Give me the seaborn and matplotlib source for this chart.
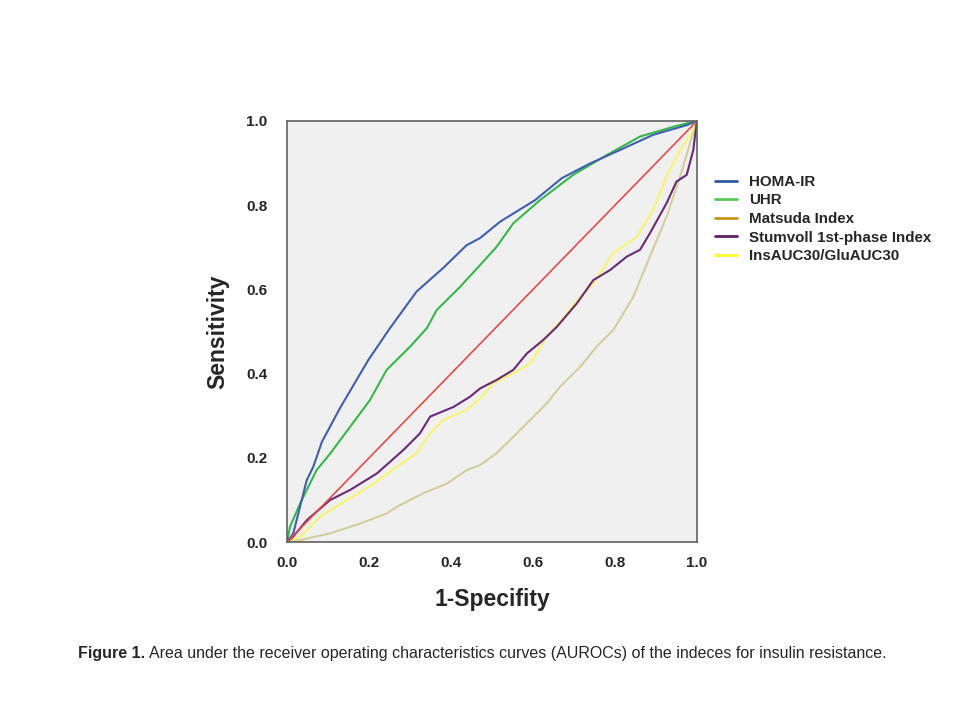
import numpy as np
import pandas as pd
import seaborn as sns
import matplotlib.pyplot as plt
from matplotlib.lines import Line2D

# ROC curves (1-specificity, sensitivity)
homa_x = [0, 0.015, 0.048, 0.064, 0.085, 0.129, 0.198, 0.251, 0.316, 0.381, 0.438, 0.471,
          0.52, 0.605, 0.67, 0.739, 0.812, 0.893, 0.975, 1.0]
homa_y = [0, 0.02, 0.147, 0.179, 0.238, 0.318, 0.432, 0.508, 0.595, 0.651, 0.705, 0.722,
          0.761, 0.812, 0.864, 0.899, 0.931, 0.967, 0.99, 1.0]

uhr_x = [0, 0.007, 0.032, 0.072, 0.105, 0.154, 0.202, 0.243, 0.30, 0.341, 0.365, 0.422,
         0.471, 0.511, 0.552, 0.617, 0.698, 0.78, 0.861, 0.942, 0.99, 1.0]
uhr_y = [0, 0.036, 0.092, 0.171, 0.21, 0.274, 0.337, 0.409, 0.464, 0.508, 0.551, 0.606,
         0.658, 0.701, 0.757, 0.812, 0.872, 0.919, 0.963, 0.986, 0.998, 1.0]

matsuda_x = [0, 0.032, 0.105, 0.178, 0.243, 0.268, 0.332, 0.39, 0.438, 0.471, 0.511, 0.552,
             0.585, 0.633, 0.666, 0.715, 0.755, 0.796, 0.845, 0.885, 0.926, 0.959, 0.983, 1.0]
matsuda_y = [0, 0.005, 0.021, 0.044, 0.068, 0.084, 0.116, 0.139, 0.171, 0.183, 0.211, 0.25,
             0.282, 0.329, 0.369, 0.416, 0.464, 0.504, 0.583, 0.678, 0.773, 0.868, 0.947, 1.0]

stumvoll_x = [0, 0.015, 0.048, 0.105, 0.154, 0.219, 0.284, 0.324, 0.349, 0.406, 0.446, 0.471,
              0.511, 0.552, 0.585, 0.625, 0.658, 0.707, 0.747, 0.788, 0.829, 0.861, 0.885,
              0.926, 0.95, 0.975, 0.991, 0.999, 1.0]
stumvoll_y = [0, 0.013, 0.052, 0.10, 0.124, 0.163, 0.219, 0.258, 0.298, 0.321, 0.345, 0.365,
              0.385, 0.409, 0.448, 0.48, 0.511, 0.567, 0.622, 0.646, 0.678, 0.694, 0.733,
              0.805, 0.856, 0.872, 0.931, 0.994, 1.0]

ins_x = [0, 0.032, 0.08, 0.146, 0.211, 0.268, 0.316, 0.349, 0.381, 0.438, 0.471, 0.503,
         0.552, 0.593, 0.633, 0.67, 0.70, 0.747, 0.796, 0.853, 0.893, 0.926, 0.959, 0.991, 1.0]
ins_y = [0, 0.013, 0.06, 0.10, 0.139, 0.179, 0.211, 0.258, 0.29, 0.314, 0.341, 0.377,
         0.401, 0.424, 0.488, 0.527, 0.565, 0.614, 0.686, 0.725, 0.789, 0.868, 0.931, 0.979, 1.0]

ref_x = [0, 1]
ref_y = [0, 1]

names = ["HOMA-IR", "UHR", "Matsuda Index", "Stumvoll 1st-phase Index", "InsAUC30/GluAUC30"]
line_colors = ["#3f5fb0", "#36b848", "#d3cf9c", "#6a2a78", "#f7f56a"]
legend_colors = ["#2f5d9c", "#5cc85c", "#c8961e", "#5c2262", "#ffff30"]

curves = [(homa_x, homa_y), (uhr_x, uhr_y), (matsuda_x, matsuda_y),
          (stumvoll_x, stumvoll_y), (ins_x, ins_y)]
frames = []
for name, (xs, ys) in zip(names, curves):
    frames.append(pd.DataFrame({"fpr": xs, "tpr": ys, "index": name}))
df = pd.concat(frames, ignore_index=True)

sns.set_style("white")
fig = plt.figure(figsize=(9.6, 7.2), dpi=100)
ax = fig.add_axes([0.299, 0.247, 0.427, 0.585])
ax.set_facecolor("#f0f0f0")

# draw order: matsuda behind, then others
order = ["Matsuda Index", "InsAUC30/GluAUC30", "Stumvoll 1st-phase Index", "UHR", "HOMA-IR"]
for name in order:
    sub = df[df["index"] == name]
    sns.lineplot(data=sub, x="fpr", y="tpr", sort=False, estimator=None,
                 color=line_colors[names.index(name)], linewidth=1.5, ax=ax, legend=False)
sns.lineplot(x=ref_x, y=ref_y, color="#e84a4a", linewidth=1.2, ax=ax, legend=False)

ax.set_xlim(0, 1)
ax.set_ylim(0, 1)
ticks = [0.0, 0.2, 0.4, 0.6, 0.8, 1.0]
ax.set_xticks(ticks)
ax.set_yticks(ticks)
ax.set_xticklabels([f"{t:.1f}" for t in ticks], fontsize=11, fontweight="bold", family="Liberation Sans")
ax.set_yticklabels([f"{t:.1f}" for t in ticks], fontsize=11, fontweight="bold", family="Liberation Sans")
ax.tick_params(axis="both", direction="out", length=6, width=1.2, color="#555555")
ax.tick_params(axis="y", pad=8)
ax.tick_params(axis="x", pad=4)
for s in ax.spines.values():
    s.set_color("#606060")
    s.set_linewidth(1.2)

ax.set_xlabel("1-Specifity", fontsize=16.5, fontweight="bold", family="Liberation Sans", labelpad=13)
ax.set_ylabel("Sensitivity", fontsize=16.5, fontweight="bold", family="Liberation Sans", labelpad=12)

handles = [Line2D([0], [0], color=c, linewidth=2) for c in legend_colors]
fig.legend(handles, names, loc="upper left", bbox_to_anchor=(0.731, 0.776), frameon=False,
           prop={"family": "Liberation Sans", "weight": "bold", "size": 10.9},
           handlelength=1.4, handletextpad=0.8, labelspacing=0.3)

cap_font = "Liberation Sans"
t1 = fig.text(0.081, 0.086, "Figure 1.", fontsize=11.5, fontweight="bold", family=cap_font)
fig.canvas.draw()
bb = t1.get_window_extent(renderer=fig.canvas.get_renderer())
x2 = (bb.x1 + 4) / fig.bbox.width
fig.text(x2, 0.086, "Area under the receiver operating characteristics curves (AUROCs) of the indeces for insulin resistance.",
         fontsize=11.5, family=cap_font)

fig.savefig("out.png", dpi=100, facecolor="white")
